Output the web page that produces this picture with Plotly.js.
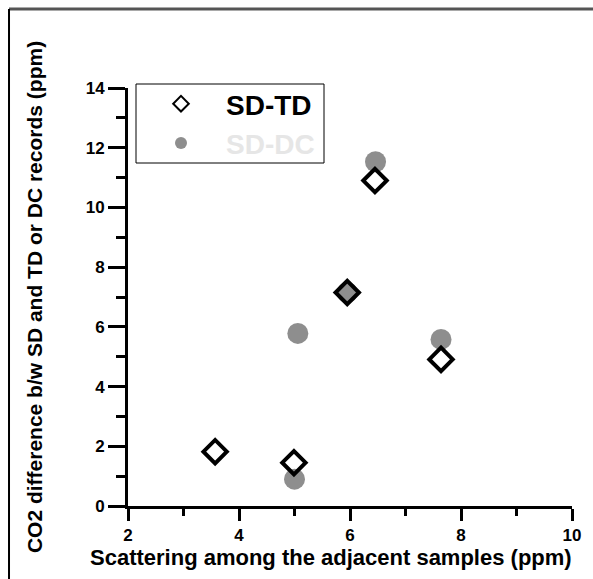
<!DOCTYPE html>
<html>
<head>
<meta charset="utf-8">
<script src="https://cdn.plot.ly/plotly-3.0.1.min.js"></script>
<style>html,body{margin:0;padding:0;background:#fff;}#chart{width:593px;height:579px;}</style>
</head>
<body>
<div id="chart"></div>
<script>
// Series SD-TD (open diamonds)
const tdX = [3.57, 4.99, 5.95, 6.45, 7.64];
const tdY = [1.82, 1.45, 7.15, 10.9, 4.91];
// Series SD-DC (grey dots)
const dcX = [5.0, 5.06, 5.95, 6.46, 7.64];
const dcY = [0.9, 5.78, 7.15, 11.53, 5.58];
const seriesNames = ['SD-TD', 'SD-DC'];
const xTicks = [2, 4, 6, 8, 10];
const yTicks = [0, 2, 4, 6, 8, 10, 12, 14];
const xTitle = 'Scattering among the adjacent samples (ppm)';
const yTitle = 'CO2 difference b/w SD and TD or DC records (ppm)';

const FONT = 'Liberation Sans, Arial, Helvetica, sans-serif';

const traces = [
  {
    x: dcX, y: dcY, type: 'scatter', mode: 'markers',
    name: '<span style="color:#e6e6e6">' + seriesNames[1] + '</span>',
    marker: {symbol: 'circle', size: 21, color: '#8e8e8e', line: {width: 0}}
  },
  {
    x: tdX, y: tdY, type: 'scatter', mode: 'markers',
    name: seriesNames[0],
    marker: {symbol: 'diamond-open', size: 18, color: '#000', line: {width: 4, color: '#000'}}
  }
];

const layout = {
  width: 593, height: 579,
  margin: {l: 128, r: 21, t: 88, b: 73, pad: 0},
  paper_bgcolor: '#fff', plot_bgcolor: '#fff',
  showlegend: true,
  legend: {
    x: 0.018, y: 1.0215, xanchor: 'left', yanchor: 'top',
    bgcolor: 'rgba(0,0,0,0)', borderwidth: 0,
    traceorder: 'reversed', itemsizing: 'constant', itemwidth: 80,
    font: {family: FONT, size: 28, color: '#000', weight: 'bold'}
  },
  xaxis: {
    range: [2, 10], tickmode: 'array', tickvals: xTicks, ticktext: xTicks.map(String),
    showgrid: false, zeroline: false, showline: true, linecolor: '#000', linewidth: 3,
    ticks: 'outside', ticklen: 12, tickwidth: 3, tickcolor: '#000',
    tickfont: {family: FONT, size: 17, color: '#000', weight: 700},
    minor: {tickvals: [3, 5, 7, 9], ticks: 'outside', ticklen: 7, tickwidth: 3, tickcolor: '#000'},
    title: {text: ''}
  },
  yaxis: {
    range: [0, 14], tickmode: 'array', tickvals: yTicks, ticktext: yTicks.map(String),
    showgrid: false, zeroline: false, showline: true, linecolor: '#000', linewidth: 3,
    ticks: 'outside', ticklen: 17, tickwidth: 3, tickcolor: '#000',
    tickfont: {family: FONT, size: 17, color: '#000', weight: 700},
    minor: {tickvals: [1, 3, 5, 7, 9, 11, 13], ticks: 'outside', ticklen: 9, tickwidth: 3, tickcolor: '#000'},
    title: {text: yTitle, font: {family: FONT, size: 21, color: '#000', weight: 'bold'}, standoff: 38}
  },
  annotations: [
    {text: xTitle, xref: 'paper', yref: 'paper', x: (331 - 128) / 444, y: -0.088,
     xanchor: 'center', yanchor: 'top', showarrow: false,
     font: {family: FONT, size: 22, color: '#000', weight: 'bold'}}
  ],
  shapes: [
    {type: 'rect', xref: 'paper', yref: 'paper', layer: 'above',
     x0: (136 - 128) / 444, x1: (324 - 128) / 444, y0: (506 - 163) / 418, y1: (506 - 84) / 418,
     fillcolor: '#fff', line: {color: '#000', width: 1}},
    {type: 'line', xref: 'paper', yref: 'paper', x0: -0.268, x1: 1.1, y0: 1.189, y1: 1.189,
     line: {color: '#555', width: 3}},
    {type: 'line', xref: 'paper', yref: 'paper', x0: -0.268, x1: -0.268, y0: 1.189, y1: -0.2,
     line: {color: '#000', width: 2}}
  ]
};

Plotly.newPlot('chart', traces, layout, {staticPlot: true, displayModeBar: false});
</script>
</body>
</html>
